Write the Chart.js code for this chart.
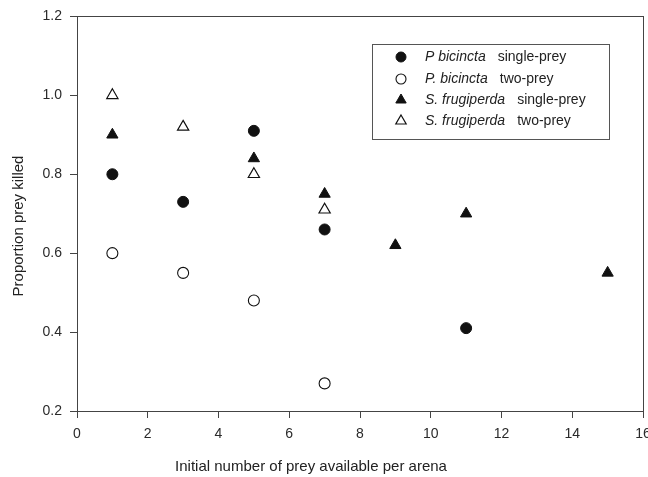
<!DOCTYPE html>
<html>
<head>
<meta charset="utf-8">
<script src="https://cdn.jsdelivr.net/npm/chart.js@4.4.1/dist/chart.umd.min.js"></script>
<style>
html,body{margin:0;padding:0;background:#fff;overflow:hidden;width:648px;height:477px;}
#wrap{position:absolute;left:0;top:0;width:670px;height:477px;}
</style>
</head>
<body>
<div id="wrap"><canvas id="c" width="670" height="477"></canvas></div>
<script>
// ---- data ----
const pbSingleX = [1, 3, 5, 7, 11];
const pbSingleY = [0.80, 0.73, 0.91, 0.66, 0.41];
const pbTwoX = [1, 3, 5, 7];
const pbTwoY = [0.60, 0.55, 0.48, 0.27];
const sfSingleX = [1, 5, 7, 9, 11, 15];
const sfSingleY = [0.90, 0.84, 0.75, 0.62, 0.70, 0.55];
const sfTwoX = [1, 3, 5, 7];
const sfTwoY = [1.00, 0.92, 0.80, 0.71];
const xTicks = [0, 2, 4, 6, 8, 10, 12, 14, 16];
const yTicks = [0.2, 0.4, 0.6, 0.8, 1.0, 1.2];
const xTitle = 'Initial number of prey available per arena';
const yTitle = 'Proportion prey killed';
const legendItems = [
  {sp: 'P bicincta', kind: 'single-prey'},
  {sp: 'P. bicincta', kind: 'two-prey'},
  {sp: 'S. frugiperda', kind: 'single-prey'},
  {sp: 'S. frugiperda', kind: 'two-prey'}
];

const FONT = '"Liberation Sans", Arial, sans-serif';
const AXIS = '#444';
const pts = (xs, ys) => xs.map((x, i) => ({x: x, y: ys[i]}));

const styles = [
  {pointStyle: 'circle', radius: 5.5, bg: '#111', border: '#111', bw: 1},
  {pointStyle: 'circle', radius: 5.5, bg: '#fff', border: '#111', bw: 1.1},
  {pointStyle: 'triangle', radius: 6.5, bg: '#111', border: '#111', bw: 1},
  {pointStyle: 'triangle', radius: 6.5, bg: '#fff', border: '#111', bw: 1.2}
];
const series = [pts(pbSingleX, pbSingleY), pts(pbTwoX, pbTwoY), pts(sfSingleX, sfSingleY), pts(sfTwoX, sfTwoY)];

const datasets = series.map((d, i) => ({
  label: legendItems[i].sp + ' ' + legendItems[i].kind,
  data: d,
  showLine: false,
  pointStyle: styles[i].pointStyle,
  pointRadius: styles[i].radius,
  pointBackgroundColor: styles[i].bg,
  pointBorderColor: styles[i].border,
  pointBorderWidth: styles[i].bw,
  pointHoverRadius: styles[i].radius
}));

const decor = {
  id: 'decor',
  afterDraw(chart) {
    const ctx = chart.ctx, a = chart.chartArea;
    ctx.save();
    // frame
    ctx.strokeStyle = AXIS;
    ctx.lineWidth = 1;
    ctx.strokeRect(Math.round(a.left) + 0.5, Math.round(a.top) + 0.5, Math.round(a.right - a.left), Math.round(a.bottom - a.top));
    // axis titles
    ctx.fillStyle = '#222';
    ctx.font = '15px ' + FONT;
    ctx.textAlign = 'center';
    ctx.textBaseline = 'middle';
    ctx.fillText(xTitle, 311, 467);
    ctx.translate(19, 226);
    ctx.rotate(-Math.PI / 2);
    ctx.fillText(yTitle, 0, 0);
    ctx.restore();

    // legend
    ctx.save();
    ctx.strokeStyle = '#555';
    ctx.lineWidth = 1;
    ctx.strokeRect(372.5, 44.5, 237, 95);
    const rowY = [57, 79, 100, 121];
    legendItems.forEach((it, i) => {
      const s = styles[i];
      ctx.fillStyle = s.bg;
      ctx.strokeStyle = s.border;
      ctx.lineWidth = s.bw;
      Chart.helpers.drawPoint(ctx, {pointStyle: s.pointStyle, radius: s.radius - 0.5, borderWidth: s.bw}, 401, rowY[i]);
      ctx.fillStyle = '#222';
      ctx.textAlign = 'left';
      ctx.textBaseline = 'middle';
      ctx.font = 'italic 14px ' + FONT;
      ctx.fillText(it.sp, 425, rowY[i]);
      const w = ctx.measureText(it.sp).width;
      ctx.font = '14px ' + FONT;
      ctx.fillText(it.kind, 425 + w + 12, rowY[i]);
    });
    ctx.restore();
  }
};

new Chart(document.getElementById('c'), {
  type: 'scatter',
  data: {datasets: datasets},
  options: {
    responsive: false,
    animation: false,
    layout: {padding: {left: 0, right: 27, top: 14, bottom: 0}},
    plugins: {legend: {display: false}, tooltip: {enabled: false}},
    scales: {
      x: {
        type: 'linear', min: 0, max: 16,
        afterBuildTicks: s => { s.ticks = xTicks.map(v => ({value: v})); },
        afterFit: s => { s.height = 66; },
        grid: {drawOnChartArea: false, drawTicks: true, tickLength: 7, color: AXIS, tickColor: AXIS},
        border: {display: true, color: AXIS},
        ticks: {color: '#2a2a2a', font: {family: FONT, size: 14}, padding: 8, maxRotation: 0, autoSkip: false,
          callback: v => String(v)}
      },
      y: {
        type: 'linear', min: 0.2, max: 1.2,
        afterBuildTicks: s => { s.ticks = yTicks.map(v => ({value: v})); },
        afterFit: s => { s.width = 77; },
        grid: {drawOnChartArea: false, drawTicks: true, tickLength: 7, color: AXIS, tickColor: AXIS},
        border: {display: true, color: AXIS},
        ticks: {color: '#2a2a2a', font: {family: FONT, size: 14}, padding: 8, autoSkip: false,
          callback: v => Number(v).toFixed(1)}
      }
    }
  },
  plugins: [decor]
});
</script>
</body>
</html>
